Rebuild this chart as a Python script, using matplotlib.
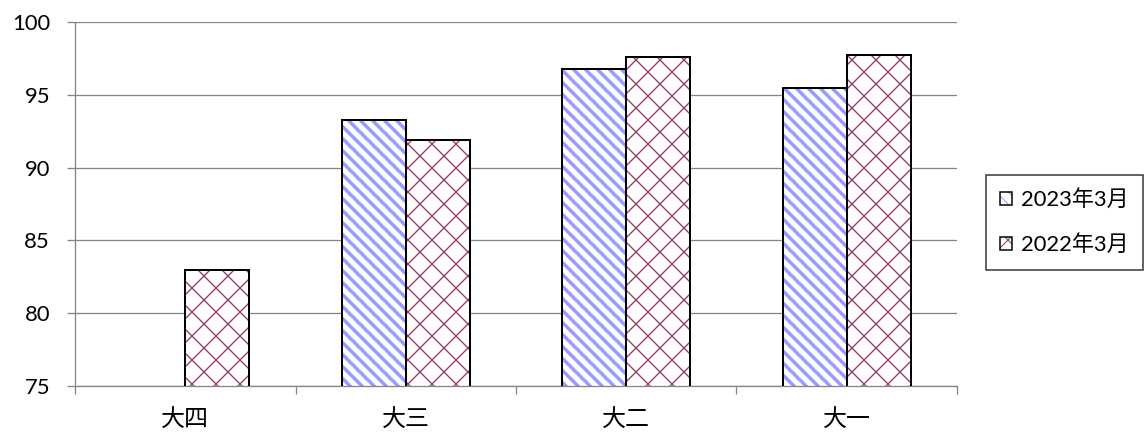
import numpy as np
import matplotlib
matplotlib.use("Agg")
import matplotlib.pyplot as plt
from matplotlib.patches import Patch

categories = ["大四", "大三", "大二", "大一"]
series_names = ["2023年3月", "2022年3月"]
values_2023 = [np.nan, 93.3, 96.8, 95.5]
values_2022 = [83.0, 91.9, 97.6, 97.7]
y_ticks = [75, 80, 85, 90, 95, 100]

plt.rcParams["font.family"] = ["Lato", "Noto Sans CJK SC", "DejaVu Sans"]

# dpi 72 so that 1 pt = 1 px
fig = plt.figure(figsize=(1144 / 72, 432 / 72), dpi=72)
ax = fig.add_axes([75 / 1144, 1 - 386 / 432, 882 / 1144, 364 / 432])

x = np.arange(len(categories))
w = 0.29
blue = "#9999FF"
maroon = "#993366"
stripe = ("\\\\", 3.4)
cross = ("x", 1.3)


def hatched_bars(xpos, vals, color, hatch, hlw):
    with plt.rc_context({"hatch.linewidth": hlw}):
        bars = ax.bar(xpos, vals, w, align="edge", facecolor="white",
                      edgecolor=color, hatch=hatch, linewidth=0, zorder=2)
    for b in bars:
        if hasattr(b, "set_hatch_linewidth"):
            b.set_hatch_linewidth(hlw)
    ax.bar(xpos, vals, w, align="edge", fill=False, edgecolor="black",
           linewidth=2, zorder=3)


hatched_bars(x - w, values_2023, blue, *stripe)
hatched_bars(x, values_2022, maroon, *cross)

ax.set_xlim(-0.5, len(categories) - 0.5)
ax.set_ylim(75, 100)
ax.set_yticks(y_ticks)
ax.yaxis.grid(True, color="#868686", linewidth=1.3)
ax.set_axisbelow(True)

ax.set_xticks(np.arange(len(categories) + 1) - 0.5)
ax.set_xticklabels([])
ax.set_xticks(x, minor=True)
ax.set_xticklabels(categories, minor=True, fontsize=24,
                   family=["Noto Sans CJK SC"])
ax.tick_params(axis="x", which="major", length=8, width=1.3, color="#868686")
ax.tick_params(axis="x", which="minor", length=0, pad=21)
ax.tick_params(axis="y", length=8, width=1.3, color="#868686", pad=17,
               labelsize=22)

for s in ["top", "right"]:
    ax.spines[s].set_visible(False)
for s in ["left", "bottom"]:
    ax.spines[s].set_color("#868686")
    ax.spines[s].set_linewidth(1.3)

handles = []
for color, (hatch, hlw) in [(blue, stripe), (maroon, cross)]:
    with plt.rc_context({"hatch.linewidth": hlw}):
        p = Patch(facecolor="white", edgecolor=color, hatch=hatch, linewidth=0)
    if hasattr(p, "set_hatch_linewidth"):
        p.set_hatch_linewidth(hlw)
    outline = Patch(fill=False, edgecolor="black", linewidth=1.5)
    handles.append((p, outline))

leg = fig.legend(handles, series_names, loc="upper left",
                 bbox_to_anchor=(986 / 1144, 1 - 175 / 432),
                 fontsize=22, frameon=True, fancybox=False,
                 handlelength=0.55, handleheight=0.55, handletextpad=0.4,
                 labelspacing=1.1, borderpad=0.65, borderaxespad=0)
leg.get_frame().set_edgecolor("black")
leg.get_frame().set_linewidth(1.5)

fig.savefig("out.png", dpi=72)
